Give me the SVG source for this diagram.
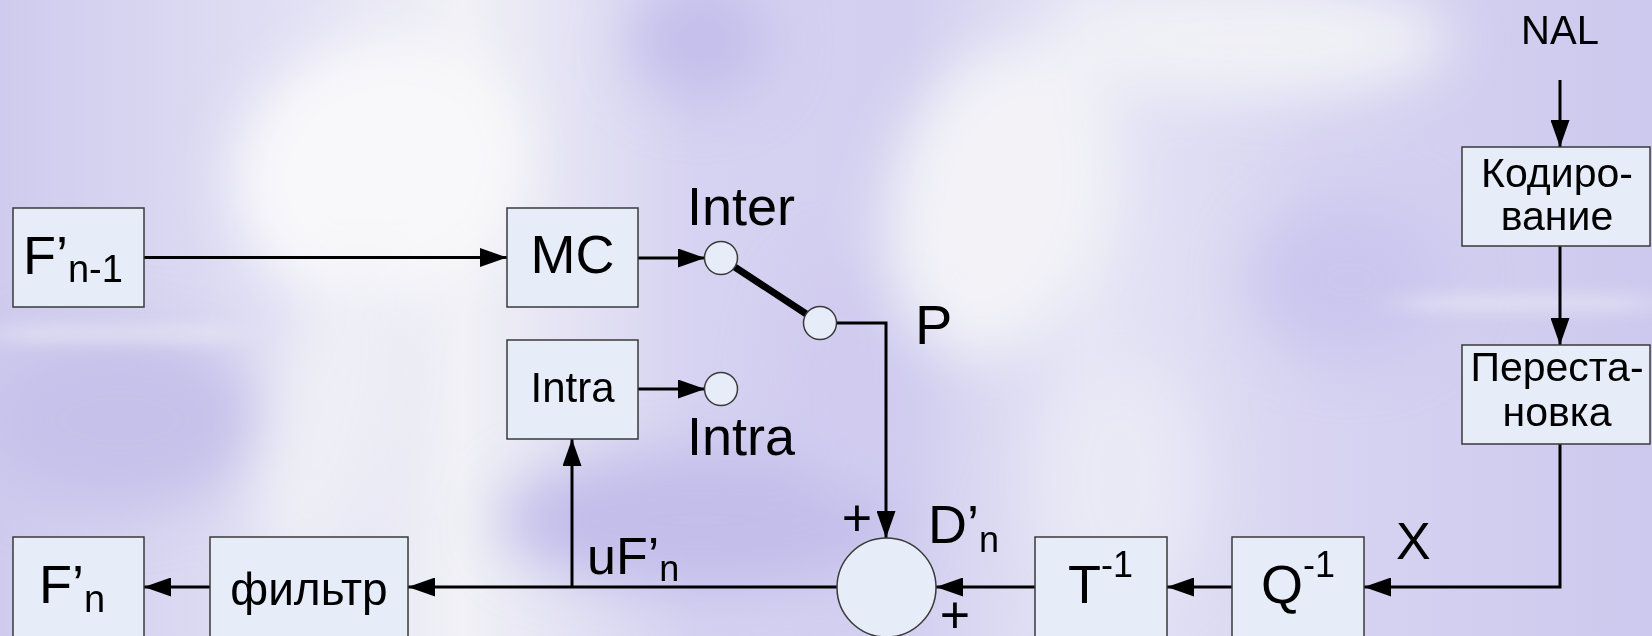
<svg xmlns="http://www.w3.org/2000/svg" width="1652" height="636" viewBox="0 0 1652 636">
<defs>
<style>
.box{fill:#e6ecf8;stroke:#3a3a3a;stroke-width:1.5}
.node{fill:#e6ecf8;stroke:#3a3a3a;stroke-width:1.5}
.wire{stroke:#000;stroke-width:3;fill:none}
.t{font-family:"Liberation Sans",Arial,sans-serif;fill:#000}
.big{font-size:54px}
.sub{font-size:36px}
.cyr{font-size:41px}
</style>
<marker id="ah" markerUnits="userSpaceOnUse" markerWidth="27" markerHeight="19" refX="27" refY="9.5" orient="auto">
<path d="M0,0 L27,9.5 L0,19 z" fill="#000"/>
</marker>
<linearGradient id="bg" x1="0" y1="0" x2="1" y2="0">
<stop offset="0" stop-color="#cfcbee"/>
<stop offset="0.18" stop-color="#e2e0f4"/>
<stop offset="0.28" stop-color="#f1f1f6"/>
<stop offset="0.42" stop-color="#d6d2f1"/>
<stop offset="0.55" stop-color="#d3cff0"/>
<stop offset="0.66" stop-color="#e6e5f5"/>
<stop offset="0.8" stop-color="#d7d3f1"/>
<stop offset="1" stop-color="#cdc9ee"/>
</linearGradient>
<filter id="blur" x="-50%" y="-50%" width="200%" height="200%"><feGaussianBlur stdDeviation="28"/></filter>
<filter id="streak" x="-50%" y="-50%" width="200%" height="200%"><feGaussianBlur stdDeviation="24 8"/></filter>
</defs>
<g id="background">
<rect width="1652" height="636" fill="url(#bg)"/>
<g filter="url(#blur)">
<ellipse cx="380" cy="170" rx="150" ry="130" fill="#f8f8fa" transform="rotate(-20 380 170)"/>
<ellipse cx="330" cy="420" rx="60" ry="160" fill="#eeeef6" transform="rotate(15 330 420)"/>
<ellipse cx="1000" cy="200" rx="110" ry="160" fill="#f2f2f7" transform="rotate(15 1000 200)"/>
<ellipse cx="1250" cy="40" rx="200" ry="60" fill="#f0f0f6"/>
<ellipse cx="700" cy="40" rx="70" ry="60" fill="#c4bfeb"/>
<ellipse cx="120" cy="420" rx="140" ry="90" fill="#c6c1ea"/>
<ellipse cx="700" cy="520" rx="200" ry="70" fill="#c3bdea"/>
<ellipse cx="1350" cy="280" rx="100" ry="80" fill="#cbc6ee"/>
<ellipse cx="1120" cy="480" rx="80" ry="120" fill="#e9e8f5"/>
<ellipse cx="850" cy="380" rx="70" ry="120" fill="#d0cbef"/>
</g>
<g filter="url(#streak)" opacity="0.45">
<rect x="0" y="325" width="240" height="18" fill="#f4f4f8"/>
<rect x="1400" y="295" width="252" height="16" fill="#f4f4f8"/>
</g>
</g>
<g id="connectors">
<line class="wire" x1="144" y1="257.5" x2="507" y2="257.5" marker-end="url(#ah)"/>
<line class="wire" x1="638" y1="258" x2="705" y2="258" marker-end="url(#ah)"/>
<line class="wire" x1="638" y1="389" x2="705" y2="389" marker-end="url(#ah)"/>
<line x1="721" y1="258" x2="820" y2="323" stroke="#000" stroke-width="7" stroke-linecap="round"/>
<path class="wire" d="M836,323 H886 V538" marker-end="url(#ah)"/>
<line class="wire" x1="1560" y1="80" x2="1560" y2="147" marker-end="url(#ah)"/>
<line class="wire" x1="1560" y1="246" x2="1560" y2="345" marker-end="url(#ah)"/>
<path class="wire" d="M1560,444 V587 H1364" marker-end="url(#ah)"/>
<line class="wire" x1="1232" y1="587" x2="1167" y2="587" marker-end="url(#ah)"/>
<line class="wire" x1="1035" y1="587" x2="936" y2="587" marker-end="url(#ah)"/>
<line class="wire" x1="837" y1="587" x2="408" y2="587" marker-end="url(#ah)"/>
<line class="wire" x1="572" y1="587" x2="572" y2="439" marker-end="url(#ah)"/>
<line class="wire" x1="210" y1="587" x2="144" y2="587" marker-end="url(#ah)"/>
</g>
<g id="Fn1">
<rect class="box" x="13" y="208" width="131" height="99"/>
<text class="t big" x="23" y="274">F’<tspan font-size="38" dy="8">n-1</tspan></text>
</g>
<g id="MC">
<rect class="box" x="507" y="208" width="131" height="99"/>
<text class="t big" x="572.5" y="273" text-anchor="middle">MC</text>
</g>
<g id="IntraBox">
<rect class="box" x="507" y="340" width="131" height="99"/>
<text class="t" font-size="42" x="572.5" y="402" text-anchor="middle">Intra</text>
</g>
<g id="InterContact">
<circle class="node" cx="721" cy="258" r="16.5"/>
<text class="t big" x="687" y="225">Inter</text>
</g>
<g id="PContact">
<circle class="node" cx="820" cy="323" r="16.5"/>
<text class="t" font-size="56" x="915" y="344">P</text>
</g>
<g id="IntraContact">
<circle class="node" cx="721" cy="389" r="16.5"/>
<text class="t big" x="687" y="455">Intra</text>
</g>
<g id="Sum">
<circle class="node" cx="886.5" cy="587.5" r="49.5"/>
<text class="t" font-size="52" x="857" y="536" text-anchor="middle">+</text>
<text class="t" font-size="52" x="955" y="633" text-anchor="middle">+</text>
<text class="t big" x="928" y="543">D’<tspan class="sub" dy="9">n</tspan></text>
</g>
<g id="uFn">
<text class="t" font-size="52" x="587" y="574">uF’<tspan class="sub" dy="7">n</tspan></text>
</g>
<g id="Tinv">
<rect class="box" x="1035" y="537" width="132" height="110"/>
<text class="t big" x="1068" y="603">T<tspan class="sub" dy="-26">-1</tspan></text>
</g>
<g id="Qinv">
<rect class="box" x="1232" y="537" width="132" height="110"/>
<text class="t big" x="1261" y="603">Q<tspan class="sub" dy="-26">-1</tspan></text>
</g>
<g id="Xlabel">
<text class="t" font-size="52" x="1396" y="559">X</text>
</g>
<g id="Fn">
<rect class="box" x="13" y="537" width="131" height="110"/>
<text class="t big" x="39" y="603">F’<tspan font-size="38" dy="9">n</tspan></text>
</g>
<g id="filter">
<rect class="box" x="210" y="537" width="198" height="110"/>
<text class="t" font-size="46" x="309" y="605" text-anchor="middle">фильтр</text>
</g>
<g id="NAL">
<text class="t" font-size="40" x="1560" y="44" text-anchor="middle">NAL</text>
</g>
<g id="coding">
<rect class="box" x="1462" y="147" width="188" height="99"/>
<text class="t cyr" x="1557" y="187" text-anchor="middle">Кодиро-</text>
<text class="t cyr" x="1557" y="230" text-anchor="middle">вание</text>
</g>
<g id="permute">
<rect class="box" x="1462" y="345" width="188" height="99"/>
<text class="t cyr" x="1557" y="381" text-anchor="middle">Переста-</text>
<text class="t cyr" x="1557" y="426" text-anchor="middle">новка</text>
</g>
</svg>
